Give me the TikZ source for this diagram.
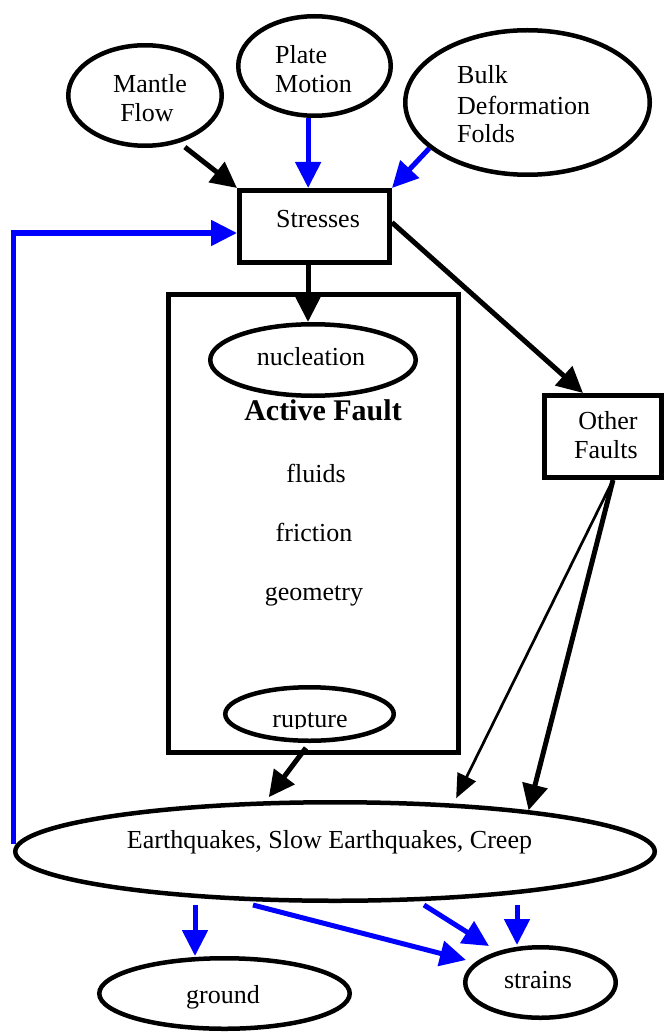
\documentclass[tikz,border=0pt]{standalone}
\usepackage{fontspec}
\setmainfont{Liberation Serif}
\usetikzlibrary{arrows.meta,shapes.geometric,calc}
\begin{document}
\begin{tikzpicture}[x=1pt,y=-1pt,
  ell/.style={draw,ellipse,line width=4.5pt,inner sep=0pt},
  box/.style={draw,rectangle,line width=5pt,inner sep=0pt},
  lbl/.style={inner sep=0pt,font=\fontsize{26pt}{30pt}\selectfont},
  blk/.style={draw=black,line width=5pt,-{Triangle[length=26pt,width=25pt]}},
  blu/.style={draw=blue,line width=5pt,-{Triangle[length=26pt,width=25pt]}},
  thn/.style={draw=black,line width=2.7pt,-{Triangle[length=24pt,width=20pt]}}]
\useasboundingbox (0,0) rectangle (665,1032);

% shapes
\node[ell,minimum width=153.5pt,minimum height=100.5pt] (mantle) at (145,95.5) {};
\node[ell,minimum width=152.5pt,minimum height=99.5pt] (plate) at (314.5,66) {};
\node[ell,minimum width=244.5pt,minimum height=144.5pt] (bulk) at (527.5,102.5) {};
\node[box,minimum width=150pt,minimum height=72pt] (stress) at (314.5,226.5) {};
\node[box,minimum width=290pt,minimum height=458pt] (fault) at (313.5,523.5) {};
\node[ell,minimum width=205.5pt,minimum height=71.5pt] (nuc) at (313,360) {};
\node[ell,minimum width=168.5pt,minimum height=53.5pt] (rup) at (309.5,714) {};
\node[box,minimum width=117pt,minimum height=82pt] (other) at (603,436.5) {};
\node[ell,minimum width=639.5pt,minimum height=98.5pt] (eq) at (335,851.5) {};
\node[ell,minimum width=250.5pt,minimum height=70.5pt] (ground) at (224.5,993.5) {};
\node[ell,minimum width=150.5pt,minimum height=70.5pt] (strains) at (540.5,982.5) {};

% texts
\node[lbl,anchor=base] (tm1) at (150,93) {Mantle};
\node[lbl,anchor=base] (tm2) at (147,122) {Flow};
\node[lbl,anchor=base west] (tp1) at (275,64) {Plate};
\node[lbl,anchor=base west] (tp2) at (275,93) {Motion};
\node[lbl,anchor=base west] (tb1) at (457,84) {Bulk};
\node[lbl,anchor=base west] (tb2) at (457,115) {Deformation};
\node[lbl,anchor=base west] (tb3) at (457,143) {Folds};
\node[lbl,anchor=base] (ts) at (318,227) {Stresses};
\node[lbl,anchor=base] (tn) at (311,365) {nucleation};
\node[lbl,anchor=base,font=\fontsize{30pt}{34pt}\selectfont\bfseries] (taf) at (323,420) {Active Fault};
\node[lbl,anchor=base] (tfl) at (316,482) {fluids};
\node[lbl,anchor=base] (tfr) at (314,541) {friction};
\node[lbl,anchor=base] (tge) at (314,600) {geometry};
\node[lbl,anchor=base] (to1) at (608,429) {Other};
\node[lbl,anchor=base] (to2) at (606,458) {Faults};
\begin{scope}
  \clip (220,690) rectangle (400,728.5);
  \node[lbl,anchor=base] (tr) at (310,727) {rupture};
\end{scope}
\node[lbl,anchor=base] (te) at (329.5,848) {Earthquakes, Slow Earthquakes, Creep};
\node[lbl,anchor=base] (tg) at (223,1003) {ground};
\node[lbl,anchor=base] (tst) at (538,988) {strains};

% helper coordinates
\coordinate (sn) at ([xshift=-6.5pt]stress.south);
\coordinate (s1) at ([xshift=-140pt,yshift=-2pt]eq.south);
\coordinate (s2) at ([xshift=-82pt,yshift=-2pt]eq.south);
\coordinate (s3) at ([xshift=89pt,yshift=-2pt]eq.south);
\coordinate (s4) at ([xshift=182pt,yshift=-2pt]eq.south);
\coordinate (of) at ([xshift=10pt]other.south);

% connectors
\draw[blk,shorten <=7pt] (mantle.-54) -- (stress.north west);
\draw[blu] (plate.-97) -- (plate.-97 |- stress.north);
\draw[blu] (bulk.205) -- (stress.north east);
\draw[blk] (sn) -- (sn |- nuc.north);
\draw[blk] ([yshift=4pt]stress.east) -- ([xshift=-20pt]other.north);
\draw[blk,shorten <=6pt,shorten >=5pt] (rup.south) -- (eq.144);
\draw[thn,shorten >=6pt] (of) -- (eq.22);
\draw[blk] (of) -- (eq.12.6);
\draw[blu] ([yshift=8pt]eq.west) |- ([yshift=-6.5pt]stress.west);
\draw[blu] (s1) -- (s1 |- ground.north);
\draw[blu] (s2) -- ([xshift=-74.5pt,yshift=22.5pt]strains.center);
\draw[blu] (s3) -- ([xshift=-51.5pt,yshift=36.5pt]strains.center);
\draw[blu] (s4) -- (s4 |- strains.north);
\end{tikzpicture}
\end{document}
